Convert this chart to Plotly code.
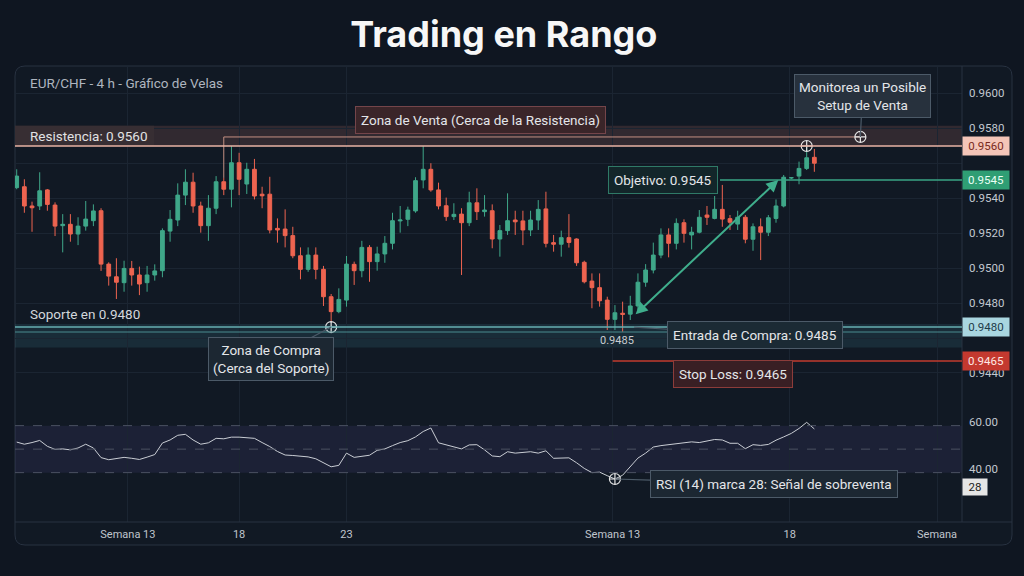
import plotly.graph_objects as go

# ---------------- data ----------------
OPEN = [0.95416,0.95420,0.95335,0.95335,0.95406,0.95339,0.95248,0.95254,0.95211,0.95246,
        0.95270,0.95314,0.95078,0.95022,0.94996,0.95059,0.95030,0.94996,0.95030,0.95049,
        0.95224,0.95273,0.95383,0.95440,0.95335,0.95248,0.95325,0.95442,0.95409,0.95526,
        0.95432,0.95497,0.95387,0.95387,0.95236,0.95233,0.95204,0.95115,0.95055,0.95118,
        0.95055,0.94934,0.94868,0.94919,0.95077,0.95049,0.95152,0.95089,0.95123,0.95170,
        0.95269,0.95276,0.95313,0.95450,0.95497,0.95406,0.95336,0.95288,0.95299,0.95261,
        0.95349,0.95310,0.95314,0.95189,0.95226,0.95273,0.95269,0.95229,0.95273,0.95322,
        0.95173,0.95166,0.95195,0.95189,0.95086,0.95003,0.94974,0.94919,0.94834,0.94861,
        0.94857,0.94893,0.94998,0.95052,0.95118,0.95207,0.95170,0.95261,0.95207,0.95219,
        0.95295,0.95280,0.95320,0.95279,0.95255,0.95285,0.95188,0.95243,0.95219,0.95280,
        0.95335,0.95459,0.95467,0.95501,0.95550]
HIGH = [0.95497,0.95453,0.95354,0.95484,0.95410,0.95351,0.95299,0.95299,0.95285,0.95357,
        0.95342,0.95325,0.95086,0.95104,0.95093,0.95092,0.95067,0.95070,0.95077,0.95236,
        0.95317,0.95435,0.95497,0.95482,0.95354,0.95383,0.95467,0.95459,0.95600,0.95570,
        0.95526,0.95543,0.95420,0.95464,0.95280,0.95320,0.95243,0.95152,0.95152,0.95152,
        0.95070,0.94946,0.94971,0.95114,0.95089,0.95181,0.95162,0.95155,0.95202,0.95305,
        0.95335,0.95332,0.95462,0.95600,0.95524,0.95438,0.95372,0.95347,0.95325,0.95398,
        0.95413,0.95383,0.95342,0.95251,0.95391,0.95314,0.95314,0.95314,0.95361,0.95398,
        0.95207,0.95226,0.95299,0.95192,0.95093,0.95037,0.95037,0.94934,0.94897,0.94912,
        0.94938,0.95037,0.95078,0.95173,0.95236,0.95236,0.95280,0.95276,0.95243,0.95317,
        0.95335,0.95379,0.95428,0.95295,0.95314,0.95295,0.95258,0.95280,0.95295,0.95364,
        0.95472,0.95463,0.95531,0.95600,0.95587]
LOW = [0.95409,0.95305,0.95221,0.95317,0.95314,0.95202,0.95130,0.95177,0.95162,0.95226,
       0.95246,0.95048,0.94983,0.94924,0.94956,0.94983,0.94941,0.94956,0.95005,0.95020,
       0.95177,0.95246,0.95339,0.95305,0.95217,0.95181,0.95299,0.95383,0.95329,0.95383,
       0.95388,0.95364,0.95325,0.95214,0.95173,0.95152,0.95104,0.95011,0.95044,0.95011,
       0.94893,0.94823,0.94861,0.94890,0.94986,0.95020,0.95000,0.95049,0.95084,0.95143,
       0.95217,0.95246,0.95305,0.95413,0.95398,0.95320,0.95269,0.95273,0.95030,0.95246,
       0.95273,0.95288,0.95148,0.95111,0.95207,0.95207,0.95162,0.95202,0.95229,0.95152,
       0.95133,0.95111,0.95151,0.95070,0.94993,0.94883,0.94890,0.94787,0.94787,0.94779,
       0.94831,0.94875,0.94978,0.95037,0.95104,0.95108,0.95143,0.95173,0.95143,0.95214,
       0.95251,0.95276,0.95243,0.95229,0.95229,0.95170,0.95137,0.95096,0.95202,0.95261,
       0.95329,0.95454,0.95431,0.95494,0.95486]
CLOSE = [0.95467,0.95335,0.95327,0.95402,0.95342,0.95246,0.95254,0.95211,0.95246,0.95277,
         0.95313,0.95078,0.95025,0.94998,0.95059,0.95030,0.94990,0.95030,0.95048,0.95226,
         0.95276,0.95383,0.95440,0.95335,0.95248,0.95325,0.95442,0.95409,0.95526,0.95453,
         0.95497,0.95379,0.95380,0.95229,0.95229,0.95204,0.95115,0.95055,0.95118,0.95055,
         0.94934,0.94868,0.94922,0.95078,0.95049,0.95152,0.95089,0.95123,0.95170,0.95270,
         0.95273,0.95317,0.95447,0.95497,0.95406,0.95335,0.95288,0.95298,0.95261,0.95349,
         0.95310,0.95317,0.95189,0.95226,0.95270,0.95265,0.95229,0.95273,0.95320,0.95170,
         0.95166,0.95195,0.95174,0.95084,0.95000,0.94974,0.94916,0.94834,0.94863,0.94856,
         0.94893,0.94998,0.95052,0.95118,0.95207,0.95170,0.95258,0.95214,0.95219,0.95285,
         0.95285,0.95320,0.95277,0.95263,0.95285,0.95188,0.95243,0.95219,0.95283,0.95335,
         0.95462,0.95460,0.95501,0.95548,0.95524]
RSI = [53.0,52.1,52.8,53.7,51.2,49.9,50.1,49.7,50.5,52.1,
       50.5,46.4,45.5,45.9,46.5,46.1,45.6,46.6,47.7,52.6,
       53.9,55.9,56.3,53.9,52.1,52.7,54.6,54.4,55.1,55.1,
       55.0,54.6,52.8,51.1,49.0,47.5,47.3,46.9,46.7,45.9,
       44.1,42.5,43.1,48.3,46.5,46.9,47.4,49.5,50.1,51.5,
       52.8,53.6,55.2,57.5,59.0,52.7,51.8,51.1,50.1,51.8,
       51.9,49.7,47.1,46.8,48.9,48.3,48.6,48.9,48.3,49.3,
       46.1,46.2,46.3,44.2,41.8,40.0,40.2,38.7,37.3,38.9,
       42.4,46.2,48.3,50.9,51.5,51.9,52.2,52.8,53.1,52.8,
       53.4,54.1,53.9,52.5,52.5,50.2,51.9,51.6,52.0,53.8,
       55.2,56.7,58.8,61.4,58.6]

X_TICK_POS = [14.5, 29, 43, 77.7, 100.8, 120]
X_TICK_LABELS = ["Semana 13", "18", "23", "Semana 13", "18", "Semana"]
Y_TICKS = [0.9600, 0.9580, 0.9540, 0.9520, 0.9500, 0.9480, 0.9440]
RSI_TICKS = [60, 40]

RESISTANCE = 0.9560
RES_ZONE_TOP = 0.9569
RES_TRACK = 0.9564
SUPPORT = 0.9480
SUP_INNER = 0.94778
SUP_ZONE_LOW = 0.9471
SUP_ZONE_TOP = 0.94813
TARGET = 0.9545
ENTRY = 0.9485
STOP = 0.9465
RSI_SIGNAL = 28
RSI_HI, RSI_MID, RSI_LO = 60, 50, 40

# key candle indices referenced by annotations
IDX_SUPPORT_TOUCH = 41
IDX_RSI_LOW = 78
IDX_ENTRY = 80.5
IDX_TARGET = 99.3
IDX_RES_TOUCH = 103
IDX_RES_CONNECT = 27
IDX_MONITOR = 110

X_RANGE = [-0.22, 123.25]
PRICE_RANGE = [0.944774, 0.959536]
TICK_RANGE = [0.942450, 0.961568]
RSI_RANGE = [19.0, 70.9]
SPLIT = 0.2675

BG = "#0f1621"
PANEL = "#111924"
GRID = "#1b2532"
BORDER = "#283241"
GREEN = "#3fa789"
RED = "#ee6450"
FONT = "Roboto"

x = list(range(len(OPEN)))
fig = go.Figure()

fig.add_trace(go.Candlestick(
    x=x, open=OPEN, high=HIGH, low=LOW, close=CLOSE,
    increasing=dict(line=dict(color=GREEN, width=1), fillcolor=GREEN),
    decreasing=dict(line=dict(color=RED, width=1), fillcolor=RED),
    whiskerwidth=0, showlegend=False, hoverinfo="skip", xaxis="x", yaxis="y"))

# connector along resistance zone
fig.add_trace(go.Scatter(
    x=[IDX_RES_CONNECT, IDX_RES_CONNECT, IDX_MONITOR],
    y=[HIGH[IDX_RES_CONNECT], RES_TRACK, RES_TRACK],
    mode="lines", line=dict(color="#c48f82", width=1),
    showlegend=False, hoverinfo="skip", xaxis="x", yaxis="y"))

# RSI line
fig.add_trace(go.Scatter(
    x=x, y=RSI, mode="lines", line=dict(color="#c9cdd4", width=1),
    showlegend=False, hoverinfo="skip", xaxis="x", yaxis="y2"))

# circle markers
fig.add_trace(go.Scatter(
    x=[IDX_RES_TOUCH, IDX_MONITOR, IDX_SUPPORT_TOUCH],
    y=[RESISTANCE, RES_TRACK, SUPPORT], mode="markers",
    marker=dict(symbol="circle-cross-open", size=11, color="#e6e6e6", line=dict(width=1.2)),
    showlegend=False, hoverinfo="skip", xaxis="x", yaxis="y"))
fig.add_trace(go.Scatter(
    x=[IDX_RSI_LOW], y=[RSI[IDX_RSI_LOW]], mode="markers",
    marker=dict(symbol="circle-cross-open", size=11, color="#e6e6e6", line=dict(width=1.2)),
    showlegend=False, hoverinfo="skip", xaxis="x", yaxis="y2"))

# invisible trace to activate tick axis
fig.add_trace(go.Scatter(
    x=[x[0]], y=[Y_TICKS[0]], mode="markers", marker=dict(opacity=0),
    showlegend=False, hoverinfo="skip", xaxis="x", yaxis="y3"))

shapes = []
# panel
x1p = (1012 - 15) / 947
ylo = -23 / 456
rx, ry = 10 / 947, 10 / 456
path = (f"M {rx},1 L {x1p-rx},1 Q {x1p},1 {x1p},{1-ry} L {x1p},{ylo+ry} "
        f"Q {x1p},{ylo} {x1p-rx},{ylo} L {rx},{ylo} Q 0,{ylo} 0,{ylo+ry} "
        f"L 0,{1-ry} Q 0,1 {rx},1 Z")
shapes.append(dict(type="path", path=path, xref="paper", yref="paper",
                   fillcolor=PANEL, line=dict(color=BORDER, width=1), layer="below"))
shapes.append(dict(type="line", xref="paper", yref="paper", x0=1, x1=1, y0=0, y1=1,
                   line=dict(color=BORDER, width=1)))
shapes.append(dict(type="line", xref="paper", yref="paper", x0=0, x1=x1p, y0=0, y1=0,
                   line=dict(color=BORDER, width=1)))
# resistance zone
shapes.append(dict(type="rect", xref="x domain", yref="y", x0=0, x1=1,
                   y0=RESISTANCE, y1=RES_ZONE_TOP, fillcolor="rgba(190,110,100,0.19)",
                   line=dict(width=0), layer="below"))
shapes.append(dict(type="rect", xref="paper", yref="y", x0=0, x1=139 / 947,
                   y0=RESISTANCE, y1=RES_ZONE_TOP, fillcolor="#372e33",
                   line=dict(width=0)))
shapes.append(dict(type="line", xref="x domain", yref="y", x0=0, x1=1,
                   y0=RESISTANCE, y1=RESISTANCE, line=dict(color="#e9b3a5", width=1.5)))
# support zone
shapes.append(dict(type="rect", xref="x domain", yref="y", x0=0, x1=1,
                   y0=SUP_ZONE_LOW, y1=SUP_ZONE_TOP, fillcolor="rgba(70,150,160,0.16)",
                   line=dict(width=0), layer="below"))
shapes.append(dict(type="line", xref="x domain", yref="y", x0=0, x1=1,
                   y0=SUPPORT, y1=SUPPORT, line=dict(color="#66aeb0", width=1.5)))
shapes.append(dict(type="line", xref="x domain", yref="y", x0=0, x1=1,
                   y0=SUP_INNER, y1=SUP_INNER, line=dict(color="#4b8b8f", width=1)))
# target and stop
shapes.append(dict(type="line", xref="x", yref="y", x0=91.7, x1=X_RANGE[1],
                   y0=TARGET, y1=TARGET, line=dict(color="#3aa585", width=1.5)))
shapes.append(dict(type="line", xref="x", yref="y", x0=77.7, x1=X_RANGE[1],
                   y0=STOP, y1=STOP, line=dict(color="#c23b2e", width=1.5)))
# RSI band and levels
shapes.append(dict(type="rect", xref="x domain", yref="y2", x0=0, x1=1,
                   y0=RSI_LO, y1=RSI_HI, fillcolor="rgba(110,90,180,0.13)",
                   line=dict(width=0), layer="below"))
for lv in (RSI_HI, RSI_MID, RSI_LO):
    shapes.append(dict(type="line", xref="x domain", yref="y2", x0=0, x1=1,
                       y0=lv, y1=lv, line=dict(color="#4b5262", width=1, dash="dash")))

ann = []
def box(text, xx, yy, bg, border, **kw):
    d = dict(text=text, x=xx, y=yy, xref="x", yref="y", showarrow=False,
             bgcolor=bg, bordercolor=border, borderwidth=1, borderpad=5,
             font=dict(family=FONT, size=13.5, color="#e4e6e9"))
    d.update(kw)
    return d

ann.append(dict(text="EUR/CHF - 4 h - Gráfico de Velas", xref="paper", yref="paper",
                x=0, y=1, xshift=13, yshift=-17, xanchor="left", yanchor="middle",
                showarrow=False, font=dict(family=FONT, size=13.5, color="#aeb5bf")))
ann.append(dict(text="Resistencia: 0.9560", xref="paper", yref="y", x=0,
                y=(RESISTANCE + RES_ZONE_TOP) / 2, xshift=13, xanchor="left",
                yanchor="middle", showarrow=False,
                font=dict(family=FONT, size=13.5, color="#e2e2e4")))
ann.append(dict(text="Soporte en 0.9480", xref="paper", yref="y", x=0, y=SUPPORT,
                xshift=13, yshift=13, xanchor="left", yanchor="middle", showarrow=False,
                font=dict(family=FONT, size=13.5, color="#d3d7dc")))
ann.append(box("Zona de Venta (Cerca de la Resistencia)", 60.5, RES_ZONE_TOP,
               "#3a2529", "#74454a", yshift=6))
ann.append(box("Monitorea un Posible<br>Setup de Venta", IDX_MONITOR, RES_TRACK,
               "#27313d", "#4c5a68", showarrow=True, arrowhead=0, arrowwidth=1.2,
               arrowcolor="#4c5a68", ax=2, ay=-41, borderpad=4))
ann.append(box("Objetivo: 0.9545", 84.3, TARGET, "#13262a", "#2f7a67"))
ann.append(box("Zona de Compra<br>(Cerca del Soporte)", IDX_SUPPORT_TOUCH, SUPPORT,
               "#1c2732", "#4c5a68", showarrow=True, arrowhead=0, arrowwidth=1.2,
               arrowcolor="#4c5a68", ax=-60, ay=32, borderpad=4))
ann.append(box("Entrada de Compra: 0.9485", IDX_ENTRY, SUPPORT, "#1b2a34", "#4c5a68",
               showarrow=True, arrowhead=0, arrowwidth=1.2, arrowcolor="#4c5a68",
               ax=121, ay=8))
ann.append(box("Stop Loss: 0.9465", 93.4, STOP, "#391f24", "#8c3c3a", yshift=-13))
ann.append(box(f"RSI (14) marca {RSI_SIGNAL}: Señal de sobreventa", IDX_RSI_LOW,
               RSI[IDX_RSI_LOW], "#1c2732", "#4c5a68", yref="y2", showarrow=True,
               arrowhead=0, arrowwidth=1.2, arrowcolor="#4c5a68", ax=159, ay=5))
ann.append(dict(text=f"{ENTRY:.4f}", x=78.3, y=ENTRY, xref="x", yref="y", yshift=-25,
                showarrow=False, font=dict(family=FONT, size=11, color="#c8ccd1")))
# entry -> target arrow
ann.append(dict(text="", x=IDX_TARGET, y=TARGET, xref="x", yref="y",
                ax=IDX_ENTRY, ay=ENTRY, axref="x", ayref="y", showarrow=True,
                arrowhead=2, startarrowhead=2, arrowside="end+start", arrowsize=1.2,
                startarrowsize=1.2, arrowwidth=2, arrowcolor="#3fae8c"))
# right axis badges
def badge(text, yy, bg, fg, yref="y", width=44, yshift=0, height=16):
    return dict(text=text, x=1, y=yy, xref="paper", yref=yref, xanchor="left",
                yanchor="middle", showarrow=False, bgcolor=bg, width=width, height=height,
                borderpad=1, yshift=yshift, font=dict(family=FONT, size=11.5, color=fg))
ann.append(badge(f"{RESISTANCE:.4f}", RESISTANCE, "#f4c5b8", "#7a2a20"))
ann.append(badge(f"{TARGET:.4f}", TARGET, "#2f9e74", "#eafff4"))
ann.append(badge(f"{SUPPORT:.4f}", SUPPORT, "#a9d6e0", "#1e3c4a"))
ann.append(badge(f"{STOP:.4f}", STOP, "#c4392f", "#ffe8e4"))
ann.append(badge(f"{RSI_SIGNAL}", RSI[IDX_RSI_LOW], "#e6e6e6", "#222222", yref="y2",
                 width=22, yshift=-8, height=14))

tickfont = dict(family=FONT, size=11.5, color="#c2c8d0")
fig.update_layout(
    width=1024, height=576,
    margin=dict(l=15, r=62, t=66, b=54),
    paper_bgcolor=BG, plot_bgcolor="rgba(0,0,0,0)",
    showlegend=False,
    title=dict(text="<b>Trading en Rango</b>", x=0.492, xanchor="center",
               y=1 - 34 / 576, yanchor="middle",
               font=dict(family="Inter", size=36, color="#f7f7f7")),
    xaxis=dict(domain=[0, 1], range=X_RANGE, anchor="y2", tickmode="array",
               tickvals=X_TICK_POS, ticktext=X_TICK_LABELS, showgrid=True,
               gridcolor=GRID, zeroline=False, showline=False, ticks="",
               ticklabelstandoff=4,
               tickfont=dict(family=FONT, size=11, color="#c0c6ce"),
               rangeslider=dict(visible=False), fixedrange=True),
    yaxis=dict(domain=[SPLIT, 1], range=PRICE_RANGE, anchor="x", showgrid=False,
               showticklabels=False, zeroline=False, ticks=""),
    yaxis3=dict(overlaying="y", side="right", anchor="x", range=TICK_RANGE,
                tickmode="array", tickvals=Y_TICKS, ticktext=[f"{v:.4f}" for v in Y_TICKS],
                showgrid=True, gridcolor=GRID, zeroline=False, ticks="",
                ticklabelstandoff=6, tickfont=tickfont,
                minor=dict(tickmode="linear", tick0=Y_TICKS[0], dtick=0.002,
                           showgrid=True, gridcolor=GRID)),
    yaxis2=dict(domain=[0, SPLIT], range=RSI_RANGE, anchor="x", side="right",
                tickmode="array", tickvals=RSI_TICKS,
                ticktext=[f"{v:.2f}" for v in RSI_TICKS], showgrid=False,
                zeroline=False, ticks="", ticklabelstandoff=6, ticklabelshift=-4,
                tickfont=tickfont),
    shapes=shapes, annotations=ann,
)

fig.write_html("out.html")
